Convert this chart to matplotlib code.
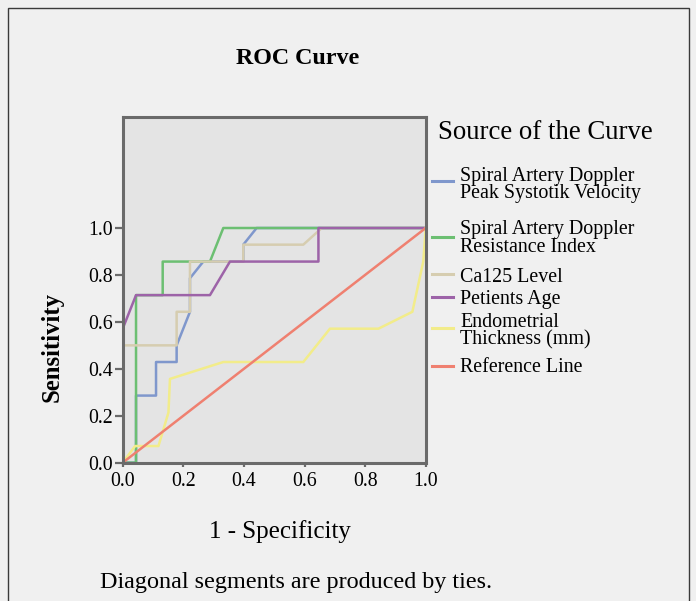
import matplotlib
matplotlib.use("Agg")
import matplotlib.pyplot as plt
from matplotlib.patches import Rectangle
from matplotlib.lines import Line2D

# ---- data ----
labels = ["Spiral Artery Doppler\nPeak Systotik Velocity",
          "Spiral Artery Doppler\nResistance Index",
          "Ca125 Level",
          "Petients Age",
          "Endometrial\nThickness (mm)",
          "Reference Line"]

psv_x = [0, 0.044, 0.044, 0.110, 0.110, 0.178, 0.178, 0.222, 0.222, 0.266, 0.398, 0.398, 0.442, 1.0]
psv_y = [0, 0, 0.286, 0.286, 0.429, 0.429, 0.5, 0.643, 0.786, 0.857, 0.857, 0.929, 1.0, 1.0]

ri_x = [0, 0.044, 0.044, 0.132, 0.132, 0.288, 0.332, 1.0]
ri_y = [0, 0, 0.714, 0.714, 0.857, 0.857, 1.0, 1.0]

ca_x = [0, 0, 0.178, 0.178, 0.222, 0.222, 0.398, 0.398, 0.596, 0.657, 1.0]
ca_y = [0, 0.5, 0.5, 0.643, 0.643, 0.857, 0.857, 0.929, 0.929, 1.0, 1.0]

age_x = [0, 0, 0.044, 0.288, 0.354, 0.646, 0.646, 1.0]
age_y = [0, 0.571, 0.714, 0.714, 0.857, 0.857, 1.0, 1.0]

et_x = [0, 0.041, 0.118, 0.151, 0.156, 0.332, 0.596, 0.684, 0.844, 0.956, 0.992, 1.0]
et_y = [0, 0.071, 0.071, 0.214, 0.357, 0.429, 0.429, 0.571, 0.571, 0.643, 0.857, 1.0]

ref_x = [0, 1]
ref_y = [0, 1]

ticks = [0.0, 0.2, 0.4, 0.6, 0.8, 1.0]
tick_labels = ["0.0", "0.2", "0.4", "0.6", "0.8", "1.0"]

colors = ["#7f97cc", "#6cbf72", "#d6cdb0", "#9d63a8", "#f2ec8a", "#ef8070"]

serif = ["Liberation Serif", "DejaVu Serif"]

fig = plt.figure(figsize=(6.96, 6.01), dpi=100, facecolor="#f0f0f0")
W, H = 696, 601


def fx(px):
    return px / W


def fy(py):
    return 1 - py / H


# outer frame
fig.patches.append(Rectangle((fx(8), -0.05), (689 - 8) / W, (601 - 8) / H + 0.05,
                             transform=fig.transFigure, fill=False,
                             edgecolor="#3a3a3a", linewidth=1.0))

ax_l, ax_r, ax_t, ax_b = 122.7, 425.7, 117.0, 462.7
ax = fig.add_axes([fx(ax_l), fy(ax_b), (ax_r - ax_l) / W, (ax_b - ax_t) / H])
ax.set_facecolor("#e4e4e4")

series = [(psv_x, psv_y), (ri_x, ri_y), (ca_x, ca_y), (age_x, age_y), (et_x, et_y), (ref_x, ref_y)]
for (xs, ys), c, lab in zip(series, colors, labels):
    ax.plot(xs, ys, color=c, linewidth=1.8, label=lab)

ax.set_xlim(0, 1)
ax.set_ylim(0, 1.473)
ax.set_xticks(ticks)
ax.set_xticklabels(tick_labels, fontfamily=serif, fontsize=14.3)
ax.set_yticks(ticks)
ax.set_yticklabels(tick_labels, fontfamily=serif, fontsize=14.3)
ax.tick_params(axis="x", length=3, width=1.6, color="#6a6a6a", pad=3.5)
ax.tick_params(axis="y", length=5.5, width=1.6, color="#6a6a6a", pad=1.5)
for s in ax.spines.values():
    s.set_color("#6a6a6a")
    s.set_linewidth(2.2)

aw, ah = ax_r - ax_l, ax_b - ax_t
ax.set_xlabel("1 - Specificity", fontfamily=serif, fontsize=18)
ax.xaxis.label.set_va("baseline")
ax.xaxis.set_label_coords((279.5 - ax_l) / aw, -(538.3 - ax_b) / ah)
ax.set_ylabel("Sensitivity", fontfamily=serif, fontsize=17.8, fontweight="bold")
ax.yaxis.label.set_va("center")
ax.yaxis.label.set_ha("center")
ax.yaxis.set_label_coords(-(ax_l - 51.7) / aw, (ax_b - 347.5) / ah)

fig.text(fx(297.5), fy(64.3), "ROC Curve", fontfamily=serif, fontsize=17.3,
         fontweight="bold", ha="center", va="baseline")
fig.text(fx(100), fy(588), "Diagonal segments are produced by ties.",
         fontfamily=serif, fontsize=17.4, ha="left", va="baseline")

# legend (laid out as in the reference)
fig.text(fx(438.3), fy(139.3), "Source of the Curve", fontfamily=serif,
         fontsize=19.3, ha="left", va="baseline")
handle_y = [180.7, 236.7, 274.3, 296.7, 328.0, 365.7]
text_base = [180.5, 234.0, 282.0, 304.0, 326.7, 372.0]
line_gap = 17.7
for lab, c, hy, tb in zip(labels, colors, handle_y, text_base):
    fig.add_artist(Line2D([fx(432), fx(453)], [fy(hy), fy(hy)], color=c,
                          linewidth=2.2, transform=fig.transFigure))
    for i, part in enumerate(lab.split("\n")):
        fig.text(fx(460), fy(tb + i * line_gap), part, fontfamily=serif,
                 fontsize=14.4, ha="left", va="baseline")

fig.savefig("out.png", dpi=100, facecolor=fig.get_facecolor())
